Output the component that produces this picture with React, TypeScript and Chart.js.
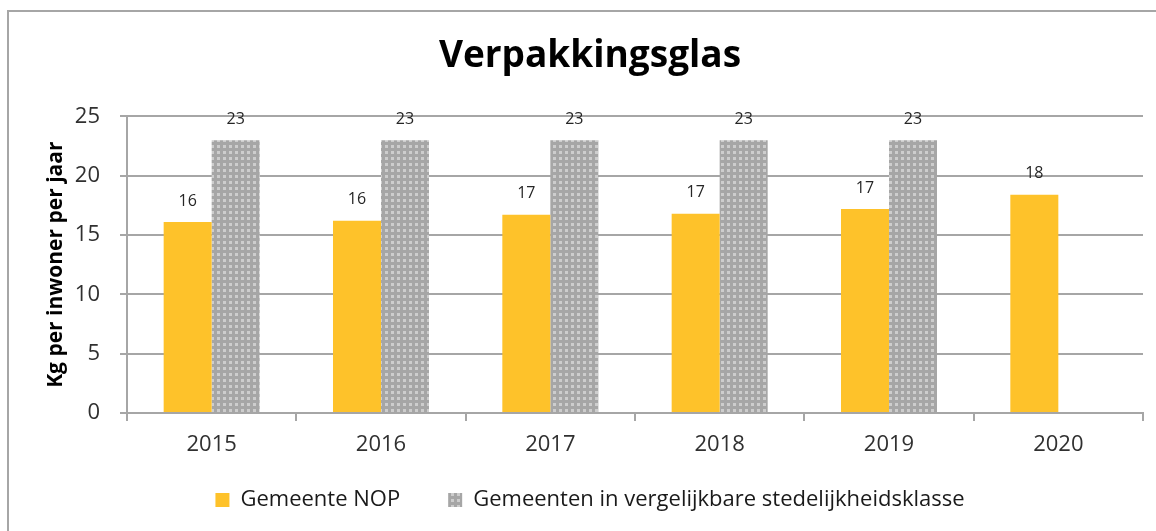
import React, { useEffect, useRef } from "react";
import { Chart, registerables } from "chart.js";

Chart.register(...registerables);

const TITLE = "Verpakkingsglas";
const Y_TITLE = "Kg per inwoner per jaar";
const YEARS = ["2015", "2016", "2017", "2018", "2019", "2020"];
const NOP_LABEL = "Gemeente NOP";
const NOP_VALUES = [16.1, 16.2, 16.7, 16.8, 17.2, 18.4];
const CLASS_LABEL = "Gemeenten in vergelijkbare stedelijkheidsklasse";
const CLASS_VALUES: (number | null)[] = [23, 23, 23, 23, 23, null];
const Y_MIN = 0;
const Y_MAX = 25;
const Y_STEP = 5;

const FONT = "'Open Sans', 'Liberation Sans', sans-serif";
const GRID = "#a6a6a6";

function makePattern(): CanvasPattern | string {
  const c = document.createElement("canvas");
  c.width = 6;
  c.height = 6;
  const x = c.getContext("2d");
  if (!x) return "#b0b0b0";
  x.fillStyle = "#a6a6a6";
  x.fillRect(0, 0, 6, 6);
  x.fillStyle = "#cdcdcd";
  x.fillRect(1, 1, 3, 3);
  const p = x.createPattern(c, "repeat");
  return p || "#b0b0b0";
}

const framePlugin = {
  id: "frame",
  beforeDraw(chart: any) {
    const ctx = chart.ctx;
    ctx.save();
    ctx.fillStyle = "#a6a6a6";
    ctx.fillRect(7, 10, chart.width, 2);
    ctx.fillRect(7, 10, 2, chart.height);
    ctx.restore();
  },
};

// let the x-axis labels extend below the (shortened) axis box without being clipped
const unclipX = {
  id: "unclipX",
  afterLayout(chart: any) {
    const x = chart.scales.x;
    if (x) x.bottom = chart.height;
  },
};

const valueLabels = {
  id: "valueLabels",
  afterDatasetsDraw(chart: any) {
    const ctx = chart.ctx;
    ctx.save();
    ctx.font = `16px ${FONT}`;
    ctx.fillStyle = "#262626";
    ctx.textAlign = "center";
    ctx.textBaseline = "middle";
    chart.data.datasets.forEach((ds: any, i: number) => {
      const meta = chart.getDatasetMeta(i);
      meta.data.forEach((el: any, j: number) => {
        const v = ds.data[j];
        if (v === null || v === undefined) return;
        ctx.fillText(String(Math.round(v)), el.x, el.y - 21);
      });
    });
    ctx.restore();
  },
};

export default function App() {
  const ref = useRef<HTMLCanvasElement>(null);
  useEffect(() => {
    if (!ref.current) return;
    const pattern = makePattern();
    const chart = new Chart(ref.current, {
      type: "bar",
      data: {
        labels: YEARS,
        datasets: [
          {
            label: NOP_LABEL,
            data: NOP_VALUES,
            backgroundColor: "#fec22a",
            borderWidth: 0,
            categoryPercentage: 0.567,
            barPercentage: 1,
          },
          {
            label: CLASS_LABEL,
            data: CLASS_VALUES,
            backgroundColor: pattern as any,
            borderWidth: 0,
            categoryPercentage: 0.567,
            barPercentage: 1,
          },
        ],
      },
      options: {
        responsive: false,
        animation: false,
        layout: { padding: { left: 37, right: 13, top: 0, bottom: 10 } },
        plugins: {
          title: {
            display: true,
            text: TITLE,
            color: "#000000",
            font: { family: FONT, size: 37, weight: "bold" },
            padding: { top: 34, bottom: 38 },
          },
          legend: {
            position: "bottom",
            labels: {
              boxWidth: 14,
              boxHeight: 14,
              padding: 48,
              color: "#1a1a1a",
              font: { family: FONT, size: 22 },
            },
          },
          tooltip: { enabled: false },
        },
        scales: {
          x: {
            grid: {
              display: true,
              drawOnChartArea: false,
              drawTicks: true,
              offset: true,
              tickLength: 8,
              color: GRID,
              lineWidth: 2,
            },
            border: { display: true, color: GRID, width: 2 },
            ticks: {
              color: "#303030",
              font: { family: FONT, size: 22 },
              padding: 11,
            },
            afterFit(scale: any) {
              scale.height = 28;
            },
          },
          y: {
            min: Y_MIN,
            max: Y_MAX,
            grid: {
              color: GRID,
              lineWidth: 2,
              drawTicks: true,
              tickLength: 7,
            },
            border: { display: true, color: GRID, width: 2 },
            ticks: {
              stepSize: Y_STEP,
              color: "#303030",
              font: { family: FONT, size: 22 },
              padding: 20,
            },
            title: {
              display: true,
              text: Y_TITLE,
              color: "#000000",
              font: { family: FONT, size: 21, weight: "bold" },
              padding: { top: 6, bottom: 0 },
            },
            afterFit(scale: any) {
              scale.width = 90;
            },
          },
        },
      },
      plugins: [framePlugin, unclipX, valueLabels],
    });
    return () => chart.destroy();
  }, []);
  return (
    <div style={{ position: "fixed", left: 0, top: 0, width: 1156, height: 531, background: "#ffffff" }}>
      <canvas ref={ref} width={1156} height={531} style={{ display: "block" }} />
    </div>
  );
}
